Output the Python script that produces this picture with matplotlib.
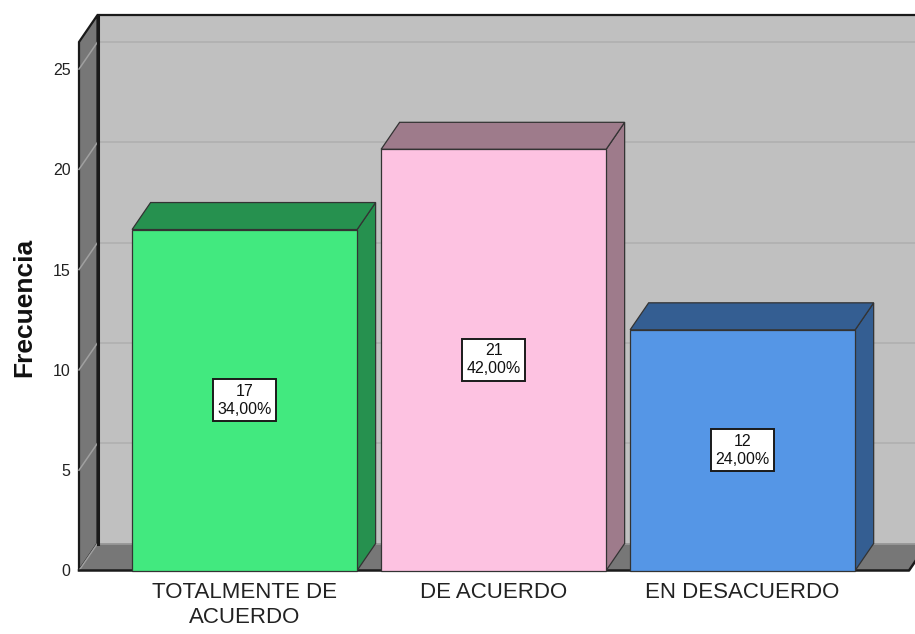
import matplotlib
matplotlib.use("Agg")
import matplotlib.pyplot as plt
from matplotlib.patches import Polygon

plt.rcParams['font.family'] = ['Liberation Sans', 'DejaVu Sans']

categories = ["TOTALMENTE DE\nACUERDO", "DE ACUERDO", "EN DESACUERDO"]
counts = [17, 21, 12]
percents = ["34,00%", "42,00%", "24,00%"]
yticks = [0, 5, 10, 15, 20, 25]

front_colors = ["#42E97F", "#FDC2E1", "#5596E6"]
dark_colors = ["#26914F", "#9E7B8B", "#345E92"]

W, H = 915, 634
fig = plt.figure(figsize=(W / 100, H / 100), dpi=100)
ax = fig.add_axes([79 / W, (H - 570.5) / H, 830 / W, (570.5 - 42) / H])
xmin, xmax = -0.665, 2.668
ymin, ymax = 0, 26.35
ax.set_xlim(xmin, xmax)
ax.set_ylim(ymin, ymax)
for s in ax.spines.values():
    s.set_visible(False)
ax.patch.set_visible(False)

dx = 18.5 / 249.0
dy = 27.0 / 20.06
bw = 0.9036

# back wall
ax.add_patch(Polygon([(xmin + dx, dy), (xmax + dx + 1, dy), (xmax + dx + 1, ymax + dy), (xmin + dx, ymax + dy)],
                     closed=True, facecolor="#C0C0C0", edgecolor="none", clip_on=False, zorder=1))
# gridlines on back wall
for t in yticks[1:]:
    ax.plot([xmin + dx, xmax + dx + 1], [t + dy, t + dy], color="#B2B2B2", lw=1.4, clip_on=False, zorder=2)
# back wall top edge
ax.plot([xmin + dx, xmax + dx + 1], [ymax + dy, ymax + dy], color="#1A1A1A", lw=1.6, clip_on=False, zorder=3)
# left wall
ax.add_patch(Polygon([(xmin, 0), (xmin, ymax), (xmin + dx, ymax + dy), (xmin + dx, dy)],
                     closed=True, facecolor="#777777", edgecolor="#1A1A1A", lw=1.6, clip_on=False, zorder=3))
for t in yticks:
    ax.plot([xmin, xmin + dx], [t, t + dy], color="#A0A0A0", lw=1.1, clip_on=False, zorder=4)
ax.plot([xmin + dx, xmin + dx], [dy, ymax + dy], color="#1A1A1A", lw=2.2, clip_on=False, zorder=4)
# floor
ax.add_patch(Polygon([(xmin, 0), (xmax, 0), (xmax + dx, dy), (xmin + dx, dy)],
                     closed=True, facecolor="#777777", edgecolor="none", clip_on=False, zorder=3))
ax.plot([xmin + dx, xmax + dx], [dy, dy], color="#9A9A9A", lw=1.2, clip_on=False, zorder=3)
ax.plot([xmin, xmax, xmax + dx], [0, 0, dy], color="#1A1A1A", lw=1.8, clip_on=False, zorder=4)

# bars
for i, (v, fc, dc) in enumerate(zip(counts, front_colors, dark_colors)):
    x0, x1 = i - bw / 2, i + bw / 2
    ec = "#333333"
    ax.add_patch(Polygon([(x1, 0), (x1 + dx, dy), (x1 + dx, v + dy), (x1, v)], closed=True,
                         facecolor=dc, edgecolor=ec, lw=0.9, clip_on=False, zorder=5))
    ax.add_patch(Polygon([(x0, v), (x1, v), (x1 + dx, v + dy), (x0 + dx, v + dy)], closed=True,
                         facecolor=dc, edgecolor=ec, lw=0.9, clip_on=False, zorder=5))
    ax.add_patch(Polygon([(x0, 0), (x1, 0), (x1, v), (x0, v)], closed=True,
                         facecolor=fc, edgecolor=ec, lw=0.9, clip_on=False, zorder=6))
    ax.text(i, v / 2, f"{v}\n{percents[i]}", ha="center", va="center", fontsize=11.5,
            linespacing=1.25, zorder=7, color="#111111",
            bbox=dict(boxstyle="square,pad=0.28", facecolor="white", edgecolor="#1A1A1A", lw=1.4))

ax.set_yticks(yticks)
ax.set_yticklabels([str(t) for t in yticks], fontsize=11.5, color="#222222")
ax.set_xticks(range(len(categories)))
ax.set_xticklabels(categories, fontsize=16, color="#222222")
for lab in ax.get_xticklabels():
    lab.set_linespacing(1.3)
ax.tick_params(axis="y", length=0, pad=6)
ax.tick_params(axis="x", length=0, pad=8)

fig.text(24 / W, 1 - 307 / H, "Frecuencia", rotation=90, ha="center", va="center",
         fontsize=19, fontweight="bold", color="#111111")

fig.savefig("out.png", dpi=100, facecolor="white")
